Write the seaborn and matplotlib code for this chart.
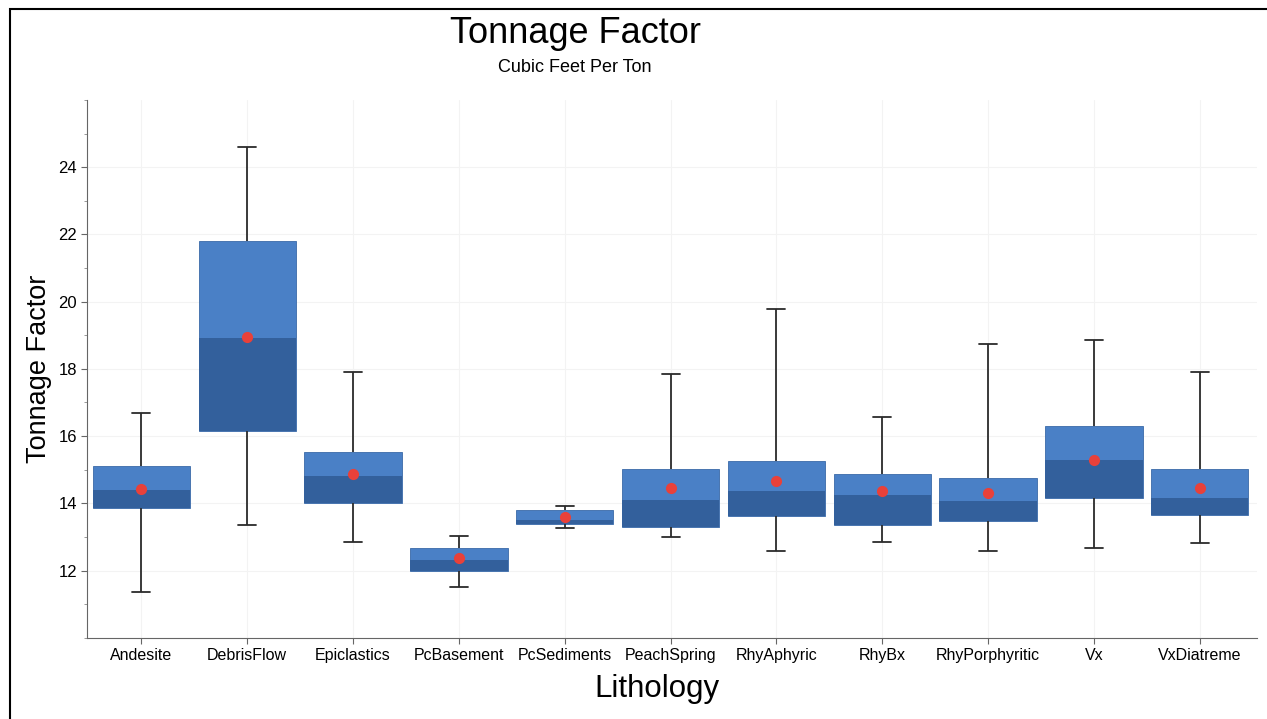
import pandas as pd
import seaborn as sns
import matplotlib.pyplot as plt
import matplotlib.patches as patches
from matplotlib.ticker import MultipleLocator

# summary stats
lithology = ['Andesite', 'DebrisFlow', 'Epiclastics', 'PcBasement', 'PcSediments', 'PeachSpring',
             'RhyAphyric', 'RhyBx', 'RhyPorphyritic', 'Vx', 'VxDiatreme']
whisker_low = [11.37, 13.36, 12.84, 11.52, 13.26, 13.00, 12.57, 12.86, 12.57, 12.67, 12.82]
q1 = [13.85, 16.15, 14.01, 11.98, 13.37, 13.30, 13.61, 13.35, 13.48, 14.16, 13.64]
median = [14.41, 18.92, 14.80, 12.30, 13.50, 14.09, 14.38, 14.26, 14.06, 15.30, 14.15]
q3 = [15.12, 21.79, 15.54, 12.66, 13.80, 15.02, 15.25, 14.87, 14.74, 16.29, 15.02]
whisker_high = [16.68, 24.61, 17.92, 13.02, 13.91, 17.85, 19.78, 16.58, 18.74, 18.86, 17.92]
mean = [14.44, 18.96, 14.88, 12.38, 13.59, 14.46, 14.67, 14.38, 14.31, 15.30, 14.46]

# five-number table: with whis=(0, 100) seaborn reproduces the box exactly
rows = []
for i, name in enumerate(lithology):
    for v in (whisker_low[i], q1[i], median[i], q3[i], whisker_high[i]):
        rows.append((name, v))
df = pd.DataFrame(rows, columns=['Lithology', 'Tonnage Factor'])

sns.set_style('ticks')
plt.rcParams['font.family'] = ['Liberation Sans', 'DejaVu Sans']
plt.rcParams['text.color'] = 'black'
plt.rcParams['axes.labelcolor'] = 'black'

fig = plt.figure(figsize=(12.67, 7.19), dpi=100)
ax = fig.add_axes([0.069, 0.113, 0.923, 0.748])

upper_col = '#4a80c6'
lower_col = '#33609c'
box_w = 0.92

sns.boxplot(data=df, x='Lithology', y='Tonnage Factor', order=lithology, whis=(0, 100),
            width=box_w, color=upper_col, linecolor='#2b2b2b', linewidth=1.3,
            boxprops=dict(facecolor=upper_col, edgecolor='#3a6aa8', linewidth=0.6),
            medianprops=dict(linewidth=0), capwidths=0.17, showfliers=False, ax=ax)

# darker lower half of each box (Q1 to median)
pos = list(range(len(lithology)))
ax.bar(pos, [m - a for m, a in zip(median, q1)], bottom=q1, width=box_w,
       color=lower_col, edgecolor='none', zorder=3)

sns.pointplot(x=lithology, y=mean, order=lithology, linestyle='none', marker='o',
              color='#e8413a', markersize=6, errorbar=None, ax=ax, zorder=5)

ax.set_ylim(10, 26)
ax.set_xlim(-0.51, 10.54)
ax.yaxis.set_major_locator(MultipleLocator(2))
ax.yaxis.set_minor_locator(MultipleLocator(1))
ax.set_yticks([12, 14, 16, 18, 20, 22, 24])
ax.grid(True, color='#f3f3f3', linewidth=0.8, zorder=0)
ax.set_axisbelow(True)
sns.despine(ax=ax)
for s in ('left', 'bottom'):
    ax.spines[s].set_color('#666666')
ax.tick_params(axis='both', colors='#666666', labelcolor='black', labelsize=11.5, length=4)
ax.tick_params(axis='y', labelsize=12)
ax.tick_params(axis='y', which='minor', colors='#888888', length=2)

ax.set_xlabel('Lithology', fontsize=22.5)
ax.set_ylabel('Tonnage Factor', fontsize=19.5)
ax.xaxis.set_label_coords(0.487, -0.068)
ax.yaxis.set_label_coords(-0.03, 0.5)

fig.text(0.454, 0.953, 'Tonnage Factor', ha='center', va='center', fontsize=26)
fig.text(0.454, 0.906, 'Cubic Feet Per Ton', ha='center', va='center', fontsize=13)

fig.patches.append(patches.Rectangle((0.008, -0.02), 1.05, 1.008, transform=fig.transFigure,
                                     fill=False, edgecolor='black', linewidth=1.5))

plt.savefig('out.png', dpi=100)
